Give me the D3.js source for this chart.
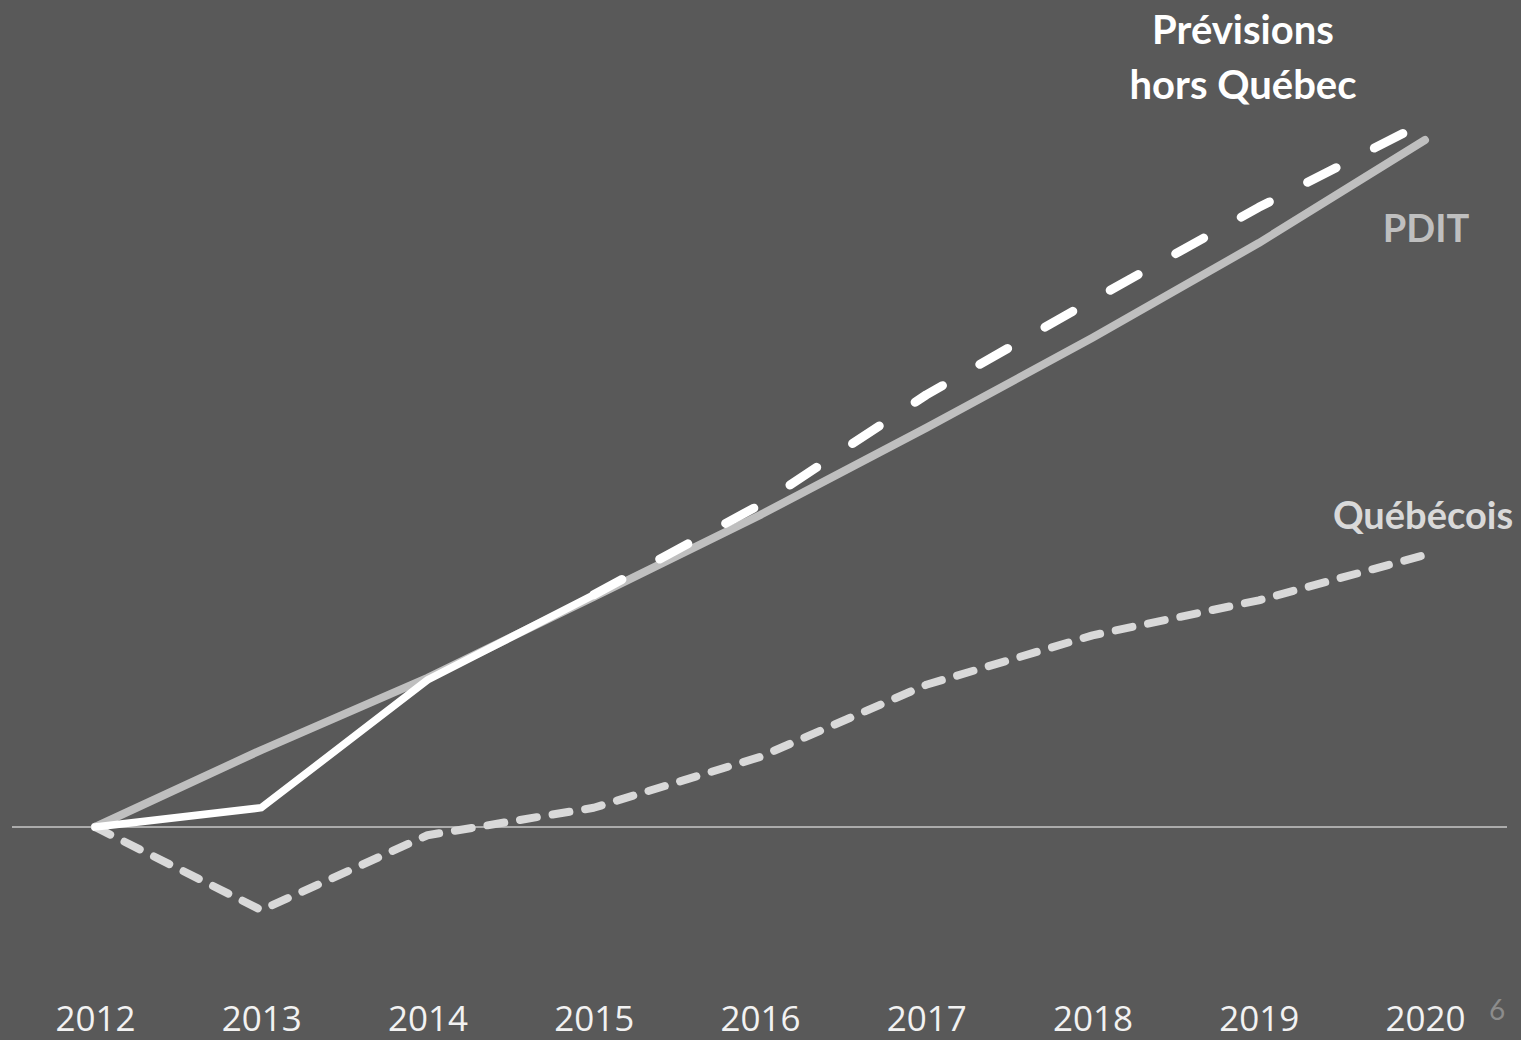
<!DOCTYPE html>
<html>
<head>
<meta charset="utf-8">
<script src="https://cdn.jsdelivr.net/npm/d3@7"></script>
<style>
  body { margin: 0; background: #595959; }
  svg { display: block; }
</style>
</head>
<body>
<div id="chart"></div>
<script>
// years on the x axis
var years = [2012, 2013, 2014, 2015, 2016, 2017, 2018, 2019, 2020];

// growth index, 2012 = 0
var pditValues = [0, 11.2, 21.7, 33.5, 45.4, 58.1, 71.2, 85.0, 100];
var actualYears = [2012, 2013, 2014, 2015];
var actualValues = [0, 2.8, 21.4, 33.8];
var forecastYears = [2015, 2016, 2017, 2018, 2019, 2020];
var forecastValues = [33.8, 46.9, 62.9, 76.7, 90.2, 102.6];
var quebecValues = [0, -12.1, -1.2, 2.8, 10.2, 20.7, 27.9, 33.0, 39.6];

var width = 1521, height = 1040;

var svg = d3.select("#chart").append("svg")
    .attr("width", width)
    .attr("height", height);

svg.append("rect")
    .attr("width", width)
    .attr("height", height)
    .attr("fill", "#595959");

var x = d3.scalePoint()
    .domain(years)
    .range([95, 1425]);

var y = d3.scaleLinear()
    .domain([0, 100])
    .range([827, 140]);

// baseline at zero
svg.append("line")
    .attr("x1", 12)
    .attr("x2", 1507)
    .attr("y1", y(0))
    .attr("y2", y(0))
    .attr("stroke", "#ffffff")
    .attr("stroke-width", 1);

// x axis labels
var xAxis = d3.axisBottom(x).tickSize(0).tickPadding(0);
var gx = svg.append("g")
    .attr("transform", "translate(0,1006)")
    .call(xAxis);
gx.select(".domain").remove();
gx.selectAll("text")
    .attr("dy", "0.71em")
    .attr("fill", "#f2f2f2")
    .style("font-family", "'Open Sans', sans-serif")
    .style("font-size", "35px");

var line = d3.line()
    .x(function (d) { return x(d[0]); })
    .y(function (d) { return y(d[1]); });

// Québécois
svg.append("path")
    .datum(d3.zip(years, quebecValues))
    .attr("d", line)
    .attr("fill", "none")
    .attr("stroke", "#d9d9d9")
    .attr("stroke-width", 8)
    .attr("stroke-linecap", "round")
    .attr("stroke-linejoin", "round")
    .attr("stroke-dasharray", "17,16");

// PDIT
svg.append("path")
    .datum(d3.zip(years, pditValues))
    .attr("d", line)
    .attr("fill", "none")
    .attr("stroke", "#bfbfbf")
    .attr("stroke-width", 8)
    .attr("stroke-linecap", "round")
    .attr("stroke-linejoin", "round");

// actual, hors Québec
svg.append("path")
    .datum(d3.zip(actualYears, actualValues))
    .attr("d", line)
    .attr("fill", "none")
    .attr("stroke", "#ffffff")
    .attr("stroke-width", 7.5)
    .attr("stroke-linecap", "round")
    .attr("stroke-linejoin", "miter");

// forecast, hors Québec
svg.append("path")
    .datum(d3.zip(forecastYears, forecastValues))
    .attr("d", line)
    .attr("fill", "none")
    .attr("stroke", "#ffffff")
    .attr("stroke-width", 9)
    .attr("stroke-linecap", "round")
    .attr("stroke-linejoin", "round")
    .attr("stroke-dasharray", "32,43");

// series labels
var labelFont = "Lato, 'Open Sans', sans-serif";

var prev = svg.append("text")
    .attr("text-anchor", "middle")
    .attr("fill", "#ffffff")
    .style("font-family", labelFont)
    .style("font-weight", "bold")
    .style("font-size", "40px");
prev.append("tspan").attr("x", 1243).attr("y", 44).text("Prévisions");
prev.append("tspan").attr("x", 1243).attr("y", 99).text("hors Québec");

svg.append("text")
    .attr("x", 1426)
    .attr("y", 242)
    .attr("text-anchor", "middle")
    .attr("fill", "#bfbfbf")
    .style("font-family", labelFont)
    .style("font-weight", "bold")
    .style("font-size", "38px")
    .text("PDIT");

svg.append("text")
    .attr("x", 1423)
    .attr("y", 529)
    .attr("text-anchor", "middle")
    .attr("fill", "#d9d9d9")
    .style("font-family", labelFont)
    .style("font-weight", "bold")
    .style("font-size", "38px")
    .text("Québécois");

// slide number
svg.append("text")
    .attr("x", 1497)
    .attr("y", 1020)
    .attr("text-anchor", "middle")
    .attr("fill", "#8c8c8c")
    .style("font-family", labelFont)
    .style("font-size", "28px")
    .text("6");
</script>
</body>
</html>
